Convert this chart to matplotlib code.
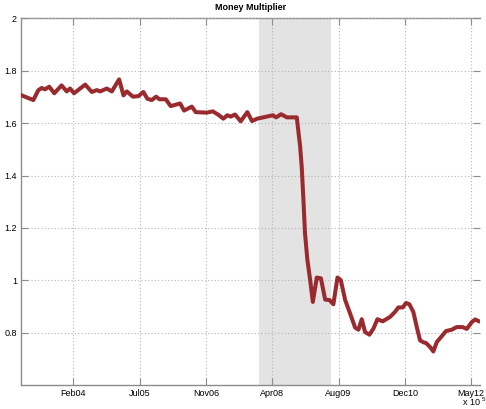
import numpy as np
import matplotlib
matplotlib.use("Agg")
import matplotlib.pyplot as plt
import matplotlib.dates as mdates

# Money multiplier series (date, value)
dates = [
    "2003-01-24", "2003-04-27", "2003-06-04", "2003-06-29", "2003-07-24", "2003-08-25",
    "2003-10-02", "2003-11-26", "2004-01-04", "2004-01-29", "2004-02-28", "2004-05-22",
    "2004-07-11", "2004-08-18", "2004-09-12", "2004-11-01", "2004-12-09", "2005-02-02",
    "2005-03-07", "2005-04-01", "2005-05-17", "2005-06-28", "2005-08-04", "2005-09-03",
    "2005-10-06", "2005-11-08", "2005-12-03", "2006-01-20", "2006-02-26", "2006-05-08",
    "2006-06-07", "2006-08-04", "2006-09-03", "2006-11-24", "2007-01-09", "2007-02-20",
    "2007-03-30", "2007-04-29", "2007-05-25", "2007-06-26", "2007-08-08", "2007-09-27",
    "2007-11-01", "2007-12-11", "2008-02-21", "2008-04-07", "2008-05-01", "2008-06-08",
    "2008-07-21", "2008-10-04", "2008-10-29", "2008-11-10", "2008-11-23", "2008-12-05",
    "2008-12-23", "2009-01-13", "2009-02-02", "2009-03-04", "2009-04-04", "2009-05-06",
    "2009-06-08", "2009-07-07", "2009-08-07", "2009-09-01", "2009-10-04", "2009-11-10",
    "2009-12-18", "2010-01-12", "2010-02-06", "2010-03-03", "2010-04-05", "2010-05-05",
    "2010-06-04", "2010-07-14", "2010-09-08", "2010-10-15", "2010-11-09", "2010-12-12",
    "2011-01-06", "2011-01-31", "2011-03-02", "2011-03-28", "2011-04-22", "2011-05-17",
    "2011-06-06", "2011-07-06", "2011-07-31", "2011-08-26", "2011-10-02", "2011-11-04",
    "2011-12-17", "2012-01-23", "2012-03-08", "2012-04-08", "2012-05-16", "2012-06-10",
    "2012-07-05",
]
multiplier = [
    1.707, 1.688, 1.726, 1.734, 1.729, 1.739,
    1.714, 1.744, 1.721, 1.732, 1.714, 1.747,
    1.719, 1.726, 1.721, 1.732, 1.721, 1.767,
    1.706, 1.721, 1.701, 1.703, 1.719, 1.693,
    1.688, 1.701, 1.691, 1.691, 1.665, 1.675,
    1.648, 1.663, 1.642, 1.640, 1.645, 1.632,
    1.617, 1.630, 1.625, 1.633, 1.607, 1.642,
    1.608, 1.617, 1.625, 1.630, 1.622, 1.634,
    1.622, 1.622, 1.512, 1.435, 1.308, 1.180,
    1.078, 1.001, 0.918, 1.011, 1.008, 0.927,
    0.925, 0.909, 1.011, 1.001, 0.925, 0.874,
    0.820, 0.812, 0.852, 0.803, 0.793, 0.816,
    0.852, 0.844, 0.861, 0.880, 0.897, 0.897,
    0.914, 0.909, 0.880, 0.822, 0.771, 0.764,
    0.761, 0.746, 0.729, 0.765, 0.787, 0.807,
    0.812, 0.822, 0.822, 0.815, 0.841, 0.851,
    0.845,
]

# Recession band
recession = ("2007-12-26", "2009-06-19")

# Axis ticks (every 500 days)
tick_dates = ["2004-02-23", "2005-07-07", "2006-11-19", "2008-04-02",
              "2009-08-15", "2010-12-28", "2012-05-11"]
tick_labels = ["Feb04", "Jul05", "Nov06", "Apr08", "Aug09", "Dec10", "May12"]
y_ticks = [0.8, 1.0, 1.2, 1.4, 1.6, 1.8, 2.0]
y_tick_labels = ["0.8", "1", "1.2", "1.4", "1.6", "1.8", "2"]
x_range = ("2003-01-24", "2012-07-17")

plt.rcParams["font.family"] = ["Liberation Sans", "DejaVu Sans"]

x = mdates.datestr2num(dates)

fig = plt.figure(figsize=(4.86, 4.09), dpi=100)
ax = fig.add_axes([0.0432, 0.058, 0.9445, 0.8973])

ax.axvspan(mdates.datestr2num(recession[0]), mdates.datestr2num(recession[1]),
           color="#e3e3e3", lw=0, zorder=0)
ax.plot(x, multiplier, color="#9a2a2d", lw=2.9, solid_joinstyle="round", zorder=3)

ax.set_xlim(mdates.datestr2num(x_range[0]), mdates.datestr2num(x_range[1]))
ax.set_ylim(0.6, 2.0)
ax.set_xticks(mdates.datestr2num(tick_dates))
ax.set_xticklabels(tick_labels)
ax.set_yticks(y_ticks)
ax.set_yticklabels(y_tick_labels)

ax.grid(True, color="#b4b4b4", linestyle=(0, (1, 2)), lw=0.8)
ax.set_axisbelow(False)
for s in ["left", "bottom", "top"]:
    ax.spines[s].set_color("#8c8c8c")
    ax.spines[s].set_linewidth(1.0)
ax.spines["right"].set_visible(False)
ax.tick_params(axis="both", direction="in", length=5, width=0.8, color="#8c8c8c",
               labelsize=6.5, top=True, right=True, pad=3)

ax.set_title("Money Multiplier", fontsize=6.5, fontweight="bold", pad=6)

# Exponent note for the date axis
fig.text(0.953, 0.004, "x 10", fontsize=6.5, ha="left", va="bottom")
fig.text(0.991, 0.016, "5", fontsize=4.5, ha="left", va="bottom")

fig.savefig("out.png", dpi=100)
